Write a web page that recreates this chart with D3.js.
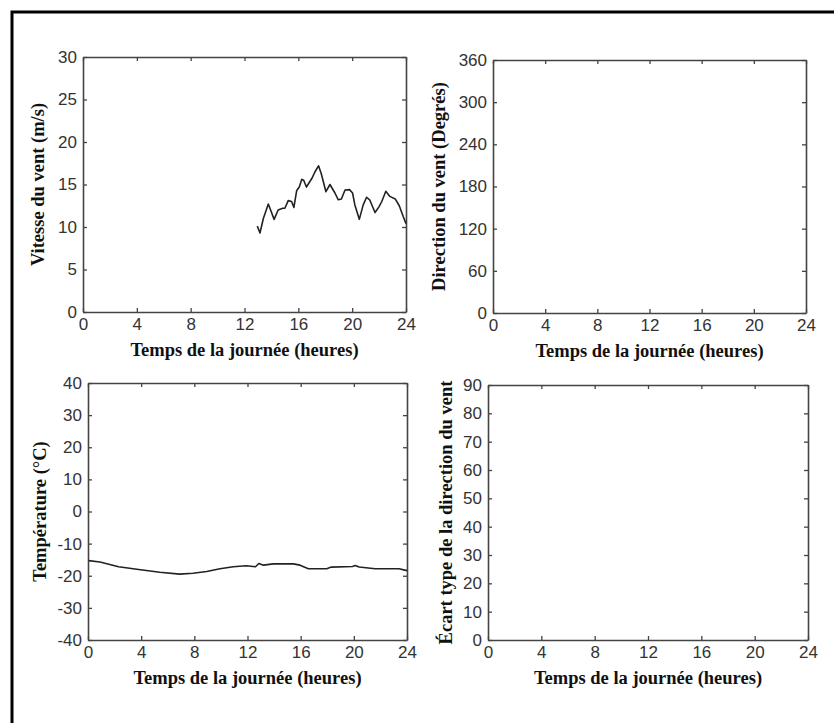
<!DOCTYPE html>
<html>
<head>
<meta charset="utf-8">
<script src="https://cdn.jsdelivr.net/npm/d3@7"></script>
<style>
  body { margin: 0; background: #fff; }
  svg { display: block; }
  .tick text { font-family: "Liberation Sans", Arial, sans-serif; font-size: 17px; fill: #333; }
  .ttl { font-family: "Liberation Serif", "Times New Roman", serif; font-weight: bold; font-size: 18.5px; fill: #111; }
</style>
</head>
<body>
<svg width="834" height="723"></svg>
<script>
// heures (axe commun)
var hourTicks = [0, 4, 8, 12, 16, 20, 24]

// vitesse du vent (m/s), seulement l'apres-midi
var windHours = [12.95, 13.15, 13.4, 13.77, 13.94, 14.2, 14.5, 14.84, 15.0, 15.25, 15.5, 15.67, 15.88, 16.07, 16.25, 16.4, 16.6, 17.0, 17.24, 17.5, 17.7, 18.05, 18.35, 18.72, 18.97, 19.2, 19.47, 19.8, 20.03, 20.2, 20.53, 20.82, 21.07, 21.3, 21.7, 22.0, 22.2, 22.5, 22.8, 23.2, 23.5, 23.8, 24.0]
var windSpeed = [10.1, 9.3, 11.0, 12.7, 12.0, 10.9, 12.0, 12.2, 12.2, 13.1, 13.0, 12.3, 14.3, 14.7, 15.6, 15.5, 14.7, 15.7, 16.5, 17.2, 16.3, 14.15, 15.0, 14.0, 13.2, 13.3, 14.35, 14.4, 14.0, 12.6, 10.9, 12.6, 13.5, 13.2, 11.7, 12.4, 13.0, 14.2, 13.6, 13.3, 12.5, 11.2, 10.4]

// temperature (degres C)
var tempHours = [0.05, 0.9, 2.3, 3.67, 5.4, 6.9, 7.9, 8.93, 9.93, 10.93, 11.9, 12.6, 12.85, 13.2, 13.95, 15.45, 15.95, 16.58, 17.96, 18.3, 19.9, 20.1, 20.4, 21.6, 23.4, 24.0]
var temperature = [-15.3, -15.7, -17.2, -18.0, -18.9, -19.5, -19.2, -18.7, -17.8, -17.2, -16.9, -17.2, -16.2, -16.7, -16.3, -16.3, -16.7, -17.8, -17.8, -17.3, -17.1, -16.8, -17.3, -17.8, -17.8, -18.4]

var windDirTicks = [0, 60, 120, 180, 240, 300, 360]
var tempTicks = [-40, -30, -20, -10, 0, 10, 20, 30, 40]
var speedTicks = [0, 5, 10, 15, 20, 25, 30]
var stdTicks = [0, 10, 20, 30, 40, 50, 60, 70, 80, 90]

var xTitle = "Temps de la journée (heures)"

var svg = d3.select("svg")

// cadre exterieur (bords gauche et haut visibles)
svg.append("rect")
  .attr("x", 12).attr("y", 12)
  .attr("width", 900).attr("height", 800)
  .attr("fill", "none").attr("stroke", "#000").attr("stroke-width", 3)

var panels = [
  {x0: 83, x1: 406, y0: 57, y1: 312, dom: [0, 30], ticks: speedTicks, label: "Vitesse du vent (m/s)", lx: 38, hrs: windHours, vals: windSpeed},
  {x0: 493, x1: 806, y0: 60, y1: 313, dom: [0, 360], ticks: windDirTicks, label: "Direction du vent (Degrés)", lx: 439},
  {x0: 88, x1: 407, y0: 383, y1: 640, dom: [-40, 40], ticks: tempTicks, label: "Température (°C)", lx: 40, hrs: tempHours, vals: temperature},
  {x0: 488, x1: 808, y0: 385, y1: 640, dom: [0, 90], ticks: stdTicks, label: "Écart type de la direction du vent", lx: 446}
]

var fmt = function(d){ return String(d) }

panels.forEach(function(p){
  var x = d3.scaleLinear().domain([0, 24]).range([p.x0, p.x1])
  var y = d3.scaleLinear().domain(p.dom).range([p.y1, p.y0])
  var g = svg.append("g")

  var axes = [
    {ax: d3.axisBottom(x).tickValues(hourTicks).tickSize(-4).tickPadding(6), tr: [0, p.y1], lab: true},
    {ax: d3.axisTop(x).tickValues(hourTicks).tickSize(-4), tr: [0, p.y0], lab: false},
    {ax: d3.axisLeft(y).tickValues(p.ticks).tickSize(-4).tickPadding(6), tr: [p.x0, 0], lab: true},
    {ax: d3.axisRight(y).tickValues(p.ticks).tickSize(-4), tr: [p.x1, 0], lab: false}
  ]
  axes.forEach(function(a){
    var ga = g.append("g")
      .attr("transform", "translate(" + a.tr[0] + "," + a.tr[1] + ")")
      .call(a.ax.tickSizeOuter(0).tickFormat(fmt))
    ga.select(".domain").attr("stroke", "#444").attr("stroke-width", 1.6)
    ga.selectAll(".tick line").attr("stroke", "#444").attr("stroke-width", 1.3)
    if (!a.lab) ga.selectAll(".tick text").remove()
    else ga.selectAll(".tick text").attr("fill", "#333")
  })

  if (p.hrs) {
    var line = d3.line()
      .x(function(d, i){ return x(p.hrs[i]) })
      .y(function(d){ return y(d) })
    g.append("path")
      .datum(p.vals)
      .attr("d", line)
      .attr("fill", "none")
      .attr("stroke", "#222")
      .attr("stroke-width", 1.6)
      .attr("stroke-linejoin", "round")
  }

  g.append("text")
    .attr("class", "ttl")
    .attr("x", (p.x0 + p.x1) / 2)
    .attr("y", p.y1 + 44)
    .attr("text-anchor", "middle")
    .text(xTitle)

  g.append("text")
    .attr("class", "ttl")
    .attr("transform", "translate(" + p.lx + "," + ((p.y0 + p.y1) / 2 - 0) + ") rotate(-90)")
    .attr("text-anchor", "middle")
    .attr("dy", "0.35em")
    .text(p.label)
})
</script>
</body>
</html>
